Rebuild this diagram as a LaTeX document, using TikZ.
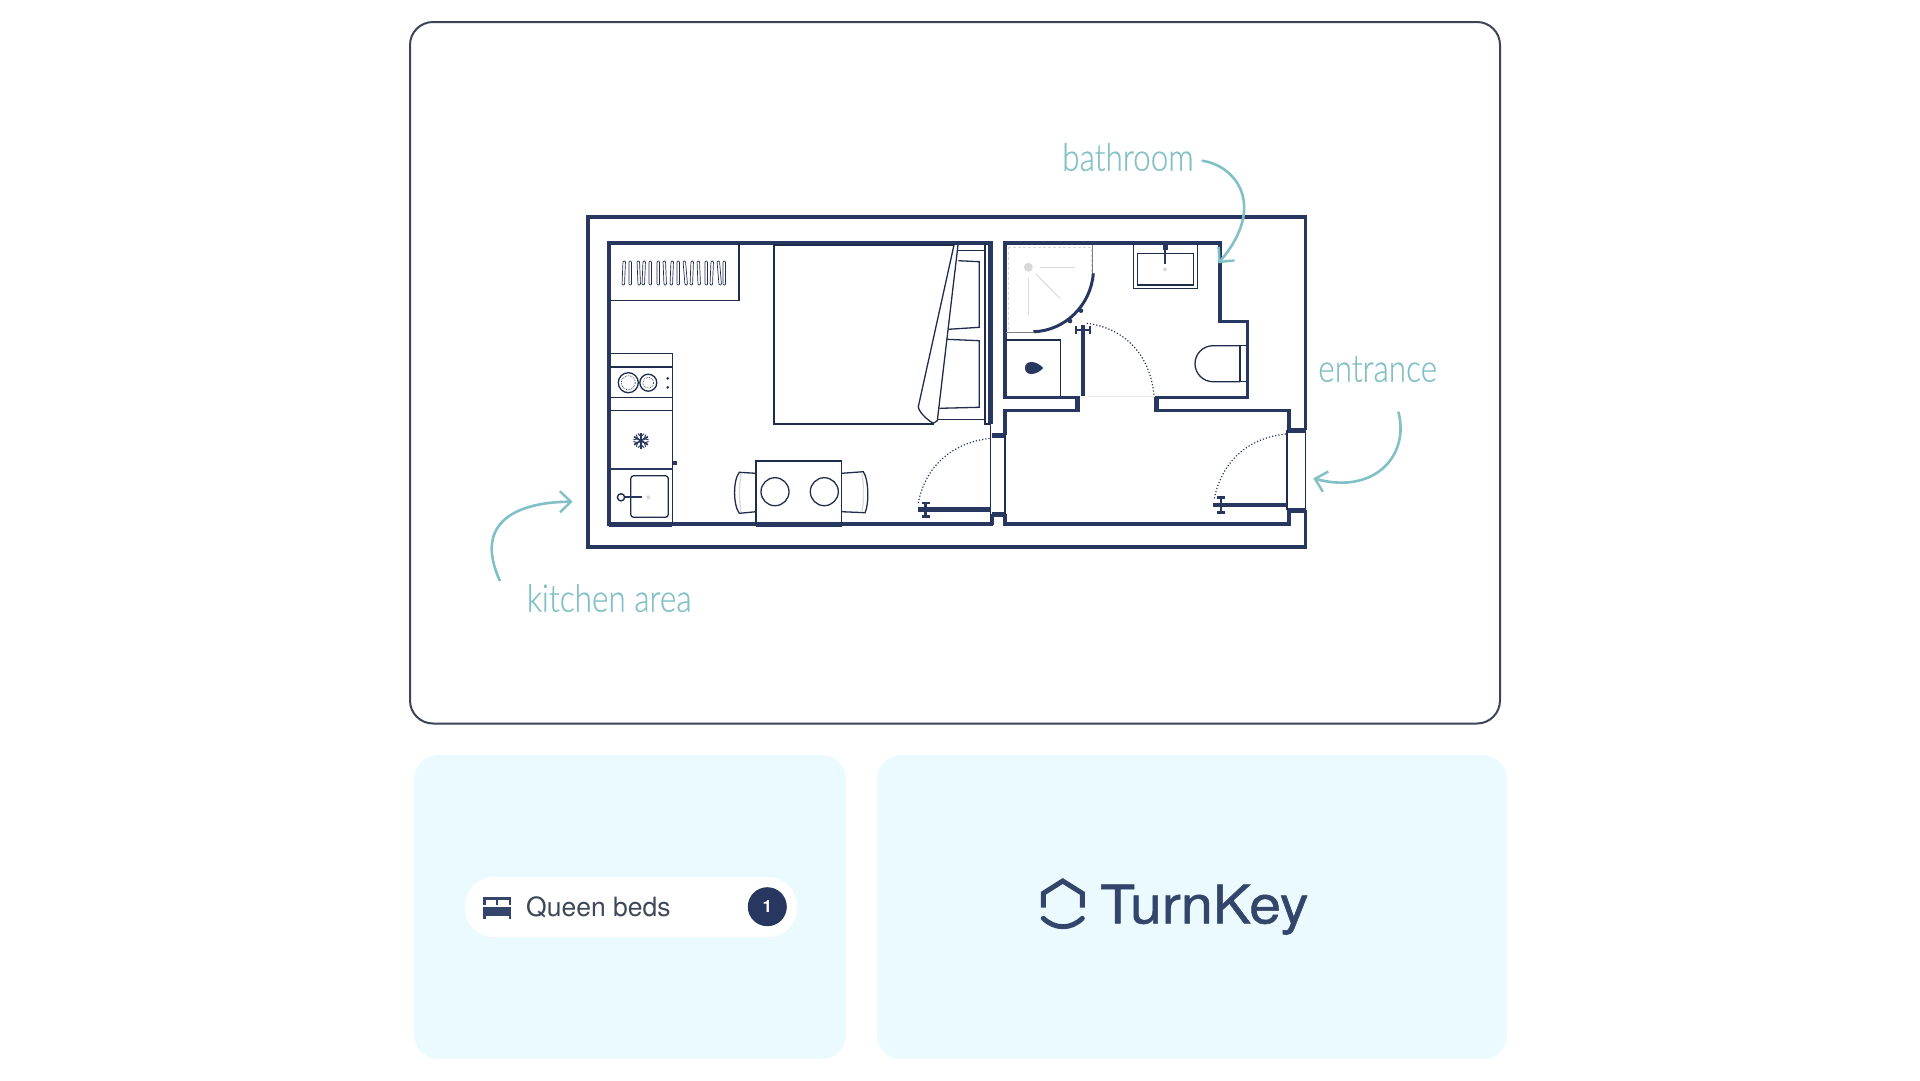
\documentclass[tikz,border=0pt]{standalone}
\usepackage{fontspec}
\usetikzlibrary{arrows.meta}
\newfontfamily\handfont[FakeStretch=0.83,FakeBold=0.35]{Lato Light}
\newfontfamily\labelfont{TeX Gyre Heros}
\newfontfamily\logofont[FakeBold=0.9,FakeStretch=1.08]{TeX Gyre Heros}
\definecolor{planblue}{HTML}{27375F}
\definecolor{framegrey}{HTML}{3C4458}
\definecolor{panelblue}{HTML}{EBFAFF}
\definecolor{noteteal}{HTML}{80C0C6}
\definecolor{inkgrey}{HTML}{3F4859}
\definecolor{logoblue}{HTML}{34456B}
\definecolor{showergrey}{HTML}{D8D8DA}
\tikzset{
  wall/.style={draw=planblue, line width=3.5pt},
  heavywall/.style={draw=planblue, line width=5pt},
  fixture/.style={draw=planblue!80!black, line width=1.3pt},
  swing/.style={draw=planblue, line width=1.2pt, dotted},
  leaf/.style={draw=planblue, line width=4.5pt},
  note/.style={text=noteteal, inner sep=0pt, anchor=base west, font=\handfont\fontsize{38}{38}\selectfont},
  notearrow/.style={draw=noteteal, line width=2.6pt, -{Straight Barb[length=11pt,width=21pt,line width=2.4pt]}}
}
\begin{document}
\begin{tikzpicture}[x=1pt,y=-1pt]
\useasboundingbox (0,0) rectangle (1920,1080);
% frame and panels
\draw[framegrey, line width=2pt, rounded corners=23pt] (410,22) rectangle (1500,723.5);
\fill[panelblue, rounded corners=24pt] (414,755) rectangle (846,1059);
\fill[panelblue, rounded corners=24pt] (877,755) rectangle (1507,1059);
% outer wall
\draw[wall] (1305.7,430) -- (1305.7,217) -- (588,217) -- (588,547) -- (1305.7,547) -- (1305.7,510);
\draw[fixture] (1305.7,430) -- (1305.7,510);
% main room
\draw[wall] (992.7,243) -- (609,243) -- (609,524) -- (992.7,524);
\draw[heavywall] (774,243) -- (958,243);
\draw[heavywall] (609,524) -- (672,524);
\draw[heavywall] (756,524) -- (842,524);
\draw[heavywall] (990.5,243) -- (990.5,424);
\draw[fixture] (985,243) -- (985,424) -- (990,424);
\draw[fixture] (990.7,424) -- (990.7,524);
\draw[wall] (992.7,514) -- (992.7,525);
% stubs to the hall
\draw[heavywall] (992,435) -- (1005,435);
\draw[heavywall] (992,514.3) -- (1005,514.3);
% hall
\draw[wall] (1005,435) -- (1005,410.7) -- (1079,410.7);
\draw[wall] (1005,514) -- (1005,524) -- (1289,524) -- (1289,510);
\draw[fixture] (1005,435) -- (1005,514);
\draw[wall] (1156,410.7) -- (1289,410.7) -- (1289,430);
\draw[heavywall] (1287,430.7) -- (1305.7,430.7);
\draw[heavywall] (1287,510) -- (1305.7,510);
\draw[fixture] (1287,430) -- (1287,510);
% bathroom
\draw[wall] (1079,397.7) -- (1005,397.7) -- (1005,243) -- (1220,243) -- (1220,321.7) -- (1247.7,321.7) -- (1247.7,397.7) -- (1156,397.7);
\draw[heavywall] (1077.5,396) -- (1077.5,412);
\draw[heavywall] (1156.7,396) -- (1156.7,412);
\draw[black!8, line width=.6pt] (1087,396) -- (1155,396);
% doors
\draw[leaf] (918.3,509.3) -- (990.7,509.3);
\draw[leaf, line width=2.6pt] (925.7,503) -- (925.7,516.5) (922,503) -- (929.5,503) (922,516.5) -- (929.5,516.5);
\draw[swing] (918.3,503) .. controls (925,468) and (950,443) .. (990,438.3);
\draw[leaf] (1083,325) -- (1083,396);
\draw[leaf, line width=2.6pt] (1076,330) -- (1090,330) (1076,326) -- (1076,334) (1090,326) -- (1090,334);
\draw[swing] (1086.7,323.3) .. controls (1125,328) and (1150,355) .. (1154,395);
\draw[leaf] (1213.3,505) -- (1286.7,505);
\draw[leaf, line width=2.6pt] (1221,497.5) -- (1221,512.5) (1217,497.5) -- (1225,497.5) (1217,512.5) -- (1225,512.5);
\draw[swing] (1214.3,498.3) .. controls (1222,462) and (1247,438) .. (1286,434);
% heater
\draw[fixture] (610,300.7) -- (739,300.7) -- (739,243);
\foreach \hx/\hs in {0/-1,6/0,14/1,20/-1,26/0,34/0,40/1,48/-1,54/0,60/2,68/-1,74/1,82/0,88/-1,94/2,100/0}
  \draw[fixture, line width=.7pt, rounded corners=1pt] (623+\hx,261) -- (623+\hx+\hs,285) -- (625.5+\hx+\hs,285) -- (625.5+\hx,261) -- cycle;
% kitchen
\draw[fixture] (609,353.3) -- (672.3,353.3) -- (672.3,524);
\draw[fixture] (610,367) -- (672.3,367);
\draw[fixture] (610,397.3) -- (672.3,397.3);
\draw[fixture] (610,410.7) -- (672.3,410.7);
\draw[wall, line width=2.4pt] (610,469) -- (672.3,469);
\foreach \bx/\br in {628.3/10,648.3/8.5} {
  \draw[fixture] (\bx,382.7) circle (\br pt);
  \draw[fixture, line width=.7pt, densely dotted] (\bx,382.7) circle (\br pt-3pt);
}
\fill[planblue] (667.7,378.3) circle (1.5pt) (667.7,387.3) circle (1.5pt);
\foreach \fa in {30,90,150} {
  \draw[planblue, line width=1.7pt, rotate around={\fa:(641,440.7)}] (633,440.7) -- (649,440.7);
}
\foreach \fa in {30,90,...,330} {
  \draw[planblue, line width=1pt, rotate around={\fa:(641,440.7)}] (648,437.7) -- (645,440.7) -- (648,443.7);
}
\fill[planblue] (672.5,460.5) rectangle (676.5,465);
% kitchen sink
\draw[fixture, rounded corners=3pt] (630.7,475.7) rectangle (668.3,517.3);
\draw[planblue, line width=2pt] (625,497.3) -- (641.7,497.3);
\draw[fixture, line width=1.4pt, fill=white] (621,497.3) circle (3.6pt);
\fill[showergrey] (648.3,497.3) circle (2pt);
% bed
\draw[fixture] (958,245) -- (774,245) -- (774,424) -- (934,424);
\draw[fixture, fill=white] (954,245) -- (918.3,406.7) .. controls (919,412) and (926,419) .. (933.3,423.3) -- (937.3,420.7) -- (958,245);
\draw[fixture] (958,250.7) -- (985,250.7);
\draw[fixture] (938,419.3) -- (985,419.3);
\draw[fixture] (958.3,260.7) -- (979.3,261.7) -- (979.3,327.3) -- (948.3,329.3);
\draw[fixture] (946.7,339.3) -- (979.3,340.7) -- (979.3,407.3) -- (939.3,408.3);
% table and chairs
\draw[fixture, line width=1.3pt] (756,524) -- (756,461) -- (841.7,461) -- (841.7,524);
\draw[fixture] (775,491.7) circle (14pt);
\draw[fixture] (824.3,491.7) circle (14pt);
\draw[fixture] (756,473.3) -- (739.3,472.3) .. controls (733,480) and (733,505) .. (739.3,513.3) -- (756,511.7);
\draw[fixture, showergrey] (741,474) .. controls (739,485) and (739,500) .. (741,512);
\draw[fixture] (841.7,473.3) -- (863.3,471.7) .. controls (869,480) and (869,505) .. (865,512.7) -- (841.7,511.7);
\draw[fixture, showergrey] (862,474) .. controls (864,485) and (864,500) .. (862,511);
% shower
\draw[showergrey, line width=.7pt, densely dashed] (1008,247) -- (1091,247) -- (1091,273);
\draw[showergrey, line width=.7pt, densely dashed] (1008,247) -- (1008,330);
\fill[showergrey] (1028.3,267.3) circle (4.5pt);
\draw[showergrey, line width=1pt] (1040,267.3) -- (1075,267.3);
\draw[showergrey, line width=1pt] (1028.3,278) -- (1028.3,315);
\draw[showergrey, line width=1pt] (1036,274) -- (1060,298.3);
\draw[black!50, line width=1.1pt] (1092.7,245) -- (1092.7,273.3);
\draw[black!50, line width=1.1pt] (1006,332.3) -- (1033.3,332.3);
\draw[planblue, line width=3pt] (1093.3,273.3) .. controls (1091,305) and (1065,331) .. (1033.3,331.7);
\fill[planblue] (1081,310.7) circle (2.3pt) (1070,321) circle (2.3pt);
% washer
\draw[fixture] (1006,340) -- (1060.7,340) -- (1060.7,396);
\fill[planblue] (1043.3,368) .. controls (1036,360) and (1025,360) .. (1025,368) .. controls (1025,376) and (1036,376) .. (1043.3,368);
% basin
\draw[fixture] (1133.3,243) -- (1133.3,288.3) -- (1197.3,288.3) -- (1197.3,243);
\draw[fixture] (1137.3,253.3) rectangle (1193.3,285);
\draw[planblue, line width=2.6pt] (1165,245) -- (1165,264);
\draw[planblue, line width=5pt] (1165,245) -- (1165,250);
\fill[showergrey] (1165,269.3) circle (2pt);
% toilet
\draw[fixture] (1240,345.7) -- (1213,345.7) arc[start angle=90, end angle=270, radius=18pt] -- (1240,381.7);
\draw[fixture] (1240,345.7) -- (1240,381.7);
\draw[fixture, line width=.7pt] (1240,345.7) -- (1246,345.7) (1240,381.7) -- (1246,381.7);
% notes
\node[note] (bathlabel) at (1062,170.7) {bathroom};
\node[note] (entrylabel) at (1318,381.7) {entrance};
\node[note] (kitchenlabel) at (526.7,611.7) {kitchen area};
\coordinate (bathstart) at (1201.7,160.7);
\coordinate (bathend) at (1218.3,263.3);
\coordinate (entrystart) at (1398.3,411.7);
\coordinate (entryend) at (1313.3,478.3);
\coordinate (kitchenstart) at (500,581);
\coordinate (kitchenend) at (572.7,501.7);
\draw[notearrow] (bathstart) .. controls (1235,165) and (1268,205) .. (bathend);
\draw[notearrow] (entrystart) .. controls (1410,455) and (1375,495) .. (entryend);
\draw[notearrow] (kitchenstart) .. controls (472,520) and (520,502) .. (kitchenend);
% queen beds badge
\fill[white, rounded corners=29pt] (465,877) rectangle (797,937);
\node[inner sep=0pt, anchor=base west, text=inkgrey, font=\labelfont\fontsize{26.5}{26.5}\selectfont] (bedlabel) at (526,916.7) {Queen beds};
\node[circle, fill=planblue, minimum size=39pt, inner sep=0pt, text=white, font=\labelfont\bfseries\fontsize{17}{17}\selectfont] (bedcount) at (767.3,906.7) {1};
% bed icon
\fill[logoblue] (483,897) rectangle (511,899.5);
\fill[logoblue] (483,897) rectangle (485.5,905);
\fill[logoblue] (495.5,897) rectangle (498,905);
\fill[logoblue] (508.5,897) rectangle (511,905);
\fill[logoblue] (483,907) rectangle (511,915.5);
\fill[logoblue] (483,915) rectangle (485.5,918.5);
\fill[logoblue] (508.5,915) rectangle (511,918.5);
% logo
\draw[logoblue, line width=5pt, miter limit=10] (1043.3,907.7) -- (1043.3,893.3) -- (1062.7,881) -- (1082.3,893.3) -- (1082.3,907.7);
\draw[logoblue, line width=5pt, line cap=round] (1043.3,918.3) .. controls (1055,929.5) and (1071,929.5) .. (1082.3,918.3);
\node[inner sep=0pt, anchor=base west, text=logoblue, font=\logofont\fontsize{53}{53}\selectfont] (logotext) at (1100,923.3) {TurnKey};
\end{tikzpicture}
\end{document}
